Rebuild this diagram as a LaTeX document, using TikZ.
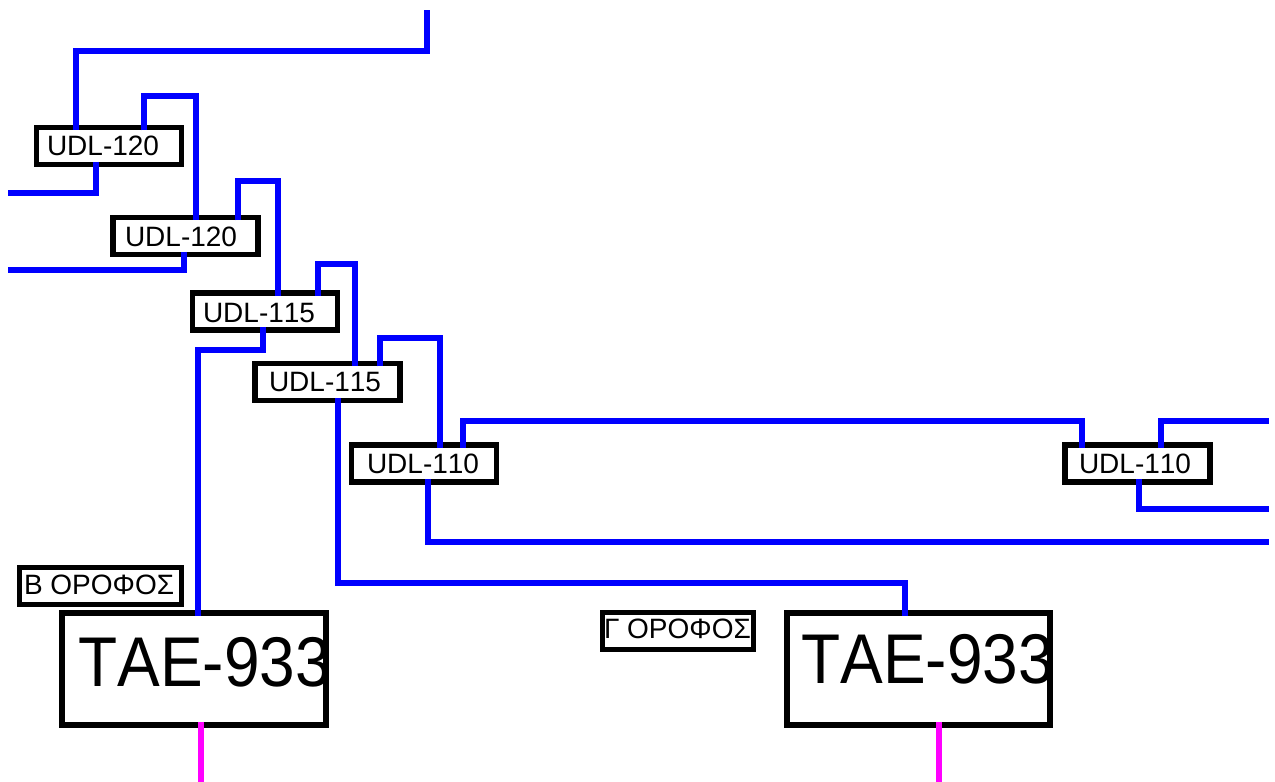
\documentclass[tikz,border=0pt]{standalone}
\usepackage{fontspec}
\setmainfont[Kerning=Off]{Liberation Sans}
\newdimen\pxu \pxu=0.75pt
% text placed by its baseline start, measured from the centre of its box
\newcommand\placed[3]{\makebox[0pt][l]{\hspace*{#1\pxu}\raisebox{#2\pxu}[0pt][0pt]{#3}}}
\tikzset{
  boxbase/.style={draw=black, fill=white, rectangle, inner sep=0pt, anchor=center},
  udl/.style={boxbase, line width=5.5\pxu, outer sep=-2.75\pxu, minimum width=145\pxu, minimum height=37\pxu, font=\fontsize{21}{21}\selectfont},
  floorlabel/.style={boxbase, line width=5\pxu, outer sep=-2.5\pxu, minimum height=37\pxu, font=\fontsize{21}{21}\selectfont},
  tae/.style={boxbase, line width=6\pxu, outer sep=-3\pxu, minimum height=112\pxu, font=\fontsize{48}{48}\selectfont},
  wire/.style={draw=blue, line width=6\pxu, line join=miter, line cap=butt},
  drop/.style={draw=magenta, line width=6\pxu, line cap=butt}
}
\definecolor{blue}{RGB}{0,0,255}
\definecolor{magenta}{RGB}{255,0,255}
\begin{document}
\begin{tikzpicture}[x=0.75pt,y=-0.75pt]
\useasboundingbox (0,0) rectangle (1275,782);
% boxes
\node[udl] (b1) at (109,146) {\placed{-62}{-9}{UDL-120}};
\node[udl] (b2) at (185.5,236) {\placed{-60.5}{-10}{UDL-120}};
\node[udl] (b3) at (265,311.5) {\placed{-62}{-11}{UDL-115}};
\node[udl] (b4) at (327.5,382) {\placed{-58.5}{-9}{UDL-115}};
\node[udl] (b5) at (424,463.5) {\placed{-57}{-10}{UDL-110}};
\node[udl] (b6) at (1137.5,463.5) {\placed{-58.5}{-10}{UDL-110}};
\node[floorlabel, minimum width=162\pxu] (f2) at (100.5,586) {\placed{-76.5}{-8.5}{Β ΟΡΟΦΟΣ}};
\node[floorlabel, minimum width=151\pxu] (f3) at (677.5,630.5) {\placed{-73.5}{-8}{Γ ΟΡΟΦΟΣ}};
\node[tae, minimum width=264\pxu] (t1) at (194,669) {\placed{-115.5}{-17.7}{\scalebox{1}[1.1]{TAE-933}}};
\node[tae, minimum width=263\pxu] (t2) at (918.5,669) {\placed{-117}{-14.3}{\scalebox{1}[1.1]{TAE-933}}};
% free ends
\coordinate (topend) at (427,10);
\coordinate (l1) at (8,193);
\coordinate (l2) at (8,270);
\coordinate (r1) at (1269,421);
\coordinate (r2) at (1269,509);
\coordinate (r3) at (1269,542);
\coordinate (m1) at (201,782);
\coordinate (m2) at (939,782);
% blue connectors
\draw[wire] (topend) -- (427,51) -- (76,51) -- (76,0 |- b1.north);
\draw[wire] (144,0 |- b1.north) -- (144,96) -- (195.5,96) -- (195.5,0 |- b2.north);
\draw[wire] (238,0 |- b2.north) -- (238,181) -- (278,181) -- (278,0 |- b3.north);
\draw[wire] (317.5,0 |- b3.north) -- (317.5,264) -- (354.7,264) -- (354.7,0 |- b4.north);
\draw[wire] (380,0 |- b4.north) -- (380,338) -- (440,338) -- (440,0 |- b5.north);
\draw[wire] (462.7,0 |- b5.north) -- (462.7,421) -- (1082,421) -- (1082,0 |- b6.north);
\draw[wire] (1161,0 |- b6.north) -- (1161,421) -- (r1);
\draw[wire] (96,0 |- b1.south) -- (96,193) -- (l1);
\draw[wire] (184,0 |- b2.south) -- (184,270) -- (l2);
\draw[wire] (263,0 |- b3.south) -- (263,350) -- (198,350) -- (198,0 |- t1.north);
\draw[wire] (337.5,0 |- b4.south) -- (337.5,582.7) -- (905,582.7) -- (905,0 |- t2.north);
\draw[wire] (428,0 |- b5.south) -- (428,542) -- (r3);
\draw[wire] (1139,0 |- b6.south) -- (1139,509) -- (r2);
% magenta drops
\draw[drop] (201,0 |- t1.south) -- (m1);
\draw[drop] (939,0 |- t2.south) -- (m2);
\end{tikzpicture}
\end{document}
